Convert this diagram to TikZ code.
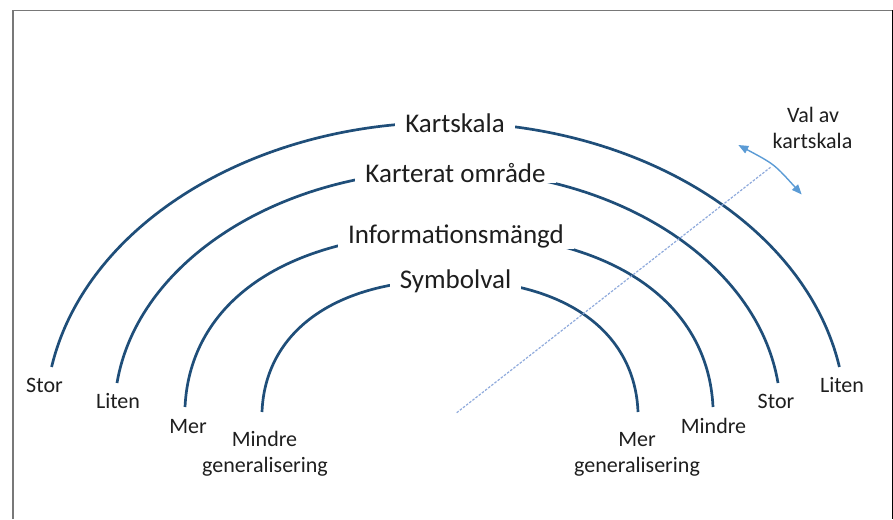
\documentclass[tikz,border=0pt]{standalone}
\usepackage{fontspec}
\setmainfont{Carlito}
\usetikzlibrary{arrows.meta}
\definecolor{arcblue}{RGB}{31,78,121}
\definecolor{dashblue}{RGB}{143,170,220}
\definecolor{arrowblue}{RGB}{91,155,213}
\definecolor{framegray}{RGB}{120,120,120}
\definecolor{txt}{RGB}{30,30,30}
\begin{document}
\begin{tikzpicture}[x=1pt,y=-1pt,
  arcline/.style={draw=arcblue,line width=2.7pt},
  title/.style={font=\fontsize{27}{31}\selectfont,text=txt,fill=white,inner xsep=10pt,inner ysep=1pt,anchor=base},
  lbl/.style={font=\fontsize{22}{26}\selectfont,text=txt,inner sep=0pt,anchor=base},
  dashline/.style={draw=dashblue,line width=1.2pt,dash pattern=on 2.5pt off 1.5pt},
  swing/.style={draw=arrowblue,line width=1.4pt,{Triangle[length=10pt,width=8pt]}-{Triangle[length=10pt,width=8pt]}}]
\useasboundingbox (0,0) rectangle (893,519);
% frame
\draw[framegray,line width=1.5pt] (13,519) -- (13,10.5) -- (892,10.5);
\draw[black,line width=1.2pt] (892.4,10.5) -- (892.4,519);
% arcs
\draw[arcline] (51.6,367) .. controls (85.3,225.6) and (251.4,122.4) .. (445.5,122.4)
               .. controls (639.6,122.4) and (805.7,225.6) .. (839.4,367);
\draw[arcline] (117,383) .. controls (137.5,261.7) and (279.3,170.5) .. (447.5,170.5)
               .. controls (615.7,170.5) and (757.5,261.7) .. (778,383);
\draw[arcline] (185,407) .. controls (190,302.6) and (285.3,233) .. (449,233)
               .. controls (612.7,233) and (708,302.6) .. (713,407);
\draw[arcline] (262,412) .. controls (265,332.8) and (333.4,280) .. (450,280)
               .. controls (566.6,280) and (635,332.8) .. (638,412);
% dashed line and swing arrow
\coordinate (dashA) at (456.7,412.7);
\coordinate (dashB) at (770.5,167.3);
\coordinate (arrA) at (738.3,145);
\coordinate (arrB) at (801.7,194.5);
\draw[dashline] (dashA) -- (dashB);
\draw[swing] (arrA) .. controls (774.3,164.2) .. (arrB);
% titles
\node[title] (t1) at (455,132) {Kartskala};
\node[title] (t2) at (455.5,182) {Karterat område};
\node[title] (t3) at (456,243) {Informationsmängd};
\node[title] (t4) at (455.5,288) {Symbolval};
% left labels
\node[lbl] (l1) at (44.5,392) {Stor};
\node[lbl] (l2) at (118,408) {Liten};
\node[lbl] (l3) at (188,433) {Mer};
\node[lbl] (l4a) at (264.5,446) {Mindre};
\node[lbl] (l4b) at (265,472) {generalisering};
% right labels
\node[lbl] (r4a) at (637,446) {Mer};
\node[lbl] (r4b) at (637,472) {generalisering};
\node[lbl] (r3) at (713.5,433) {Mindre};
\node[lbl] (r2) at (776,408) {Stor};
\node[lbl] (r1) at (842,392) {Liten};
% choice label
\node[lbl] (v1) at (813,122) {Val av};
\node[lbl] (v2) at (812.5,148) {kartskala};
\end{tikzpicture}
\end{document}
